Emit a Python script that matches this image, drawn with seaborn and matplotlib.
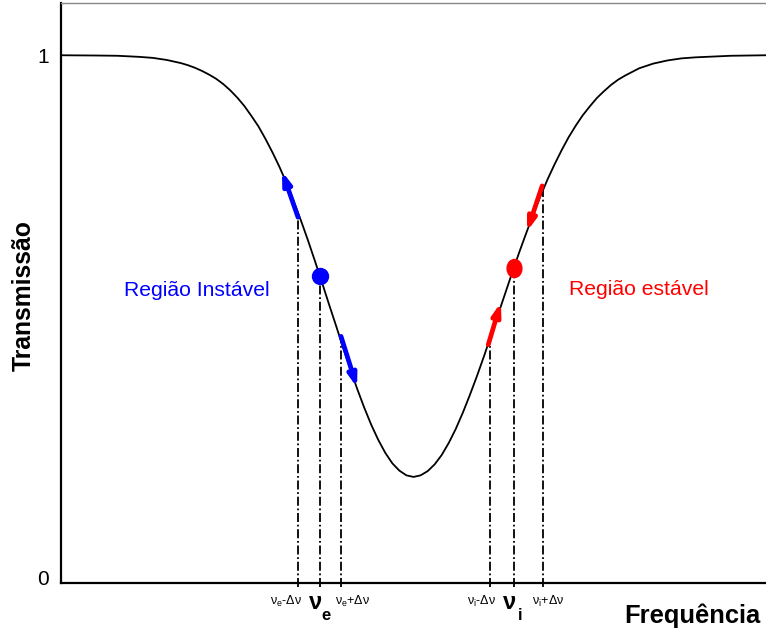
import numpy as np
import pandas as pd
import matplotlib
matplotlib.use("Agg")
import matplotlib.pyplot as plt
from matplotlib.markers import MarkerStyle
from matplotlib.transforms import Affine2D
import seaborn as sns

# Transmission curve of the filter (frequency in arbitrary units)
freq = [0.0, 0.5, 0.8, 1.1, 1.3, 1.5, 1.6, 1.7, 1.8, 1.9, 2.0, 2.1, 2.2, 2.3,
        2.4, 2.5, 2.6, 2.7, 2.8, 2.9, 3.0, 3.1, 3.2, 3.3, 3.4, 3.5, 3.6, 3.7,
        3.8, 3.9, 4.0, 4.1, 4.2, 4.3, 4.4, 4.5, 4.6, 4.7, 4.8, 4.9, 5.0, 5.1,
        5.2, 5.3, 5.4, 5.5, 5.6, 5.7, 5.8, 5.9, 6.0, 6.1, 6.2, 6.3, 6.4, 6.5,
        6.6, 6.7, 6.8, 6.9, 7.0, 7.1, 7.2, 7.3, 7.4, 7.5, 7.6, 7.7, 7.8, 7.9,
        8.0, 8.2, 8.4, 8.6, 8.8, 9.0, 9.5, 10.0]
trans = [1.000, 0.9995, 0.999, 0.997, 0.995, 0.991, 0.988, 0.985, 0.981, 0.976,
         0.970, 0.963, 0.955, 0.945, 0.933, 0.919, 0.903, 0.884, 0.864, 0.840,
         0.814, 0.786, 0.755, 0.721, 0.685, 0.647, 0.607, 0.566, 0.524, 0.483,
         0.441, 0.401, 0.362, 0.326, 0.293, 0.264, 0.239, 0.219, 0.205, 0.196,
         0.193, 0.196, 0.204, 0.217, 0.235, 0.258, 0.285, 0.316, 0.350, 0.386,
         0.424, 0.464, 0.504, 0.544, 0.584, 0.623, 0.660, 0.696, 0.730, 0.762,
         0.791, 0.818, 0.843, 0.865, 0.885, 0.902, 0.918, 0.931, 0.943, 0.953,
         0.961, 0.975, 0.984, 0.990, 0.994, 0.996, 0.999, 1.000]

# Operating points: unstable (e) and stable (i), with the +/- delta offsets
pt_names = ["e-", "e", "e+", "i-", "i", "i+"]
pt_freq = [3.362, 3.674, 3.972, 6.085, 6.426, 6.837]
pt_trans = [0.697, 0.578, 0.455, 0.452, 0.593, 0.748]

# Drift arrows along the curve: (x_start, y_start, x_end, y_end)
arrows_blue = [(3.362, 0.690, 3.135, 0.778), (3.972, 0.462, 4.200, 0.364)]
arrows_red = [(6.060, 0.446, 6.240, 0.527), (6.825, 0.750, 6.610, 0.663)]

small_labels = [r"$\mathregular{\nu_e}$-$\mathregular{\Delta\nu}$",
                r"$\mathregular{\nu_e}$+$\mathregular{\Delta\nu}$",
                r"$\mathregular{\nu_i}$-$\mathregular{\Delta\nu}$",
                r"$\mathregular{\nu_i}$+$\mathregular{\Delta\nu}$"]
small_label_x = [3.19, 4.13, 5.96, 6.91]

sns.set_theme(style="white")
plt.rcParams["font.family"] = ["Liberation Sans", "DejaVu Sans"]
plt.rcParams["text.color"] = "black"
plt.rcParams["ytick.color"] = "black"
plt.rcParams["mathtext.fontset"] = "custom"
plt.rcParams["mathtext.rm"] = "Liberation Sans"
plt.rcParams["mathtext.it"] = "Liberation Sans"
plt.rcParams["mathtext.bf"] = "Liberation Sans:bold"

fig = plt.figure(figsize=(7.66, 6.36), dpi=100)
ax = fig.add_axes([61 / 766, 53 / 636, 1 - 61 / 766, (583 - 3) / 636])

df = pd.DataFrame({"Frequência": freq, "Transmissão": trans})
sns.lineplot(data=df, x="Frequência", y="Transmissão", color="black",
             linewidth=1.3, ax=ax)

# Vertical dash-dot guides down to the axis
for x, y in zip(pt_freq, pt_trans):
    ax.plot([x, x], [-0.017, y], color="black", linewidth=1.3,
            linestyle=(0, (5, 1.5, 1, 1.5)), clip_on=False, zorder=2)

for x0, y0, x1, y1 in arrows_blue:
    ax.annotate("", xy=(x1, y1), xytext=(x0, y0),
                arrowprops=dict(arrowstyle="-|>,head_length=0.6,head_width=0.2",
                                color="#0000ff", lw=3.4, shrinkA=0, shrinkB=0))
for x0, y0, x1, y1 in arrows_red:
    ax.annotate("", xy=(x1, y1), xytext=(x0, y0),
                arrowprops=dict(arrowstyle="-|>,head_length=0.6,head_width=0.2",
                                color="#ff0000", lw=3.4, shrinkA=0, shrinkB=0))

ax.plot([pt_freq[1]], [pt_trans[1]], marker="o", markersize=11.5,
        color="#0000ff", linestyle="none", zorder=4)
ax.plot([pt_freq[4]], [pt_trans[4]],
        marker=MarkerStyle("o", transform=Affine2D().scale(0.82, 1.0)),
        markersize=13, color="#ff0000", linestyle="none", zorder=4)

ax.text(1.93, 0.55, "Região Instável", color="#0000ff", fontsize=15.2,
        ha="center", va="center")
ax.text(8.2, 0.552, "Região estável", color="#ff0000", fontsize=15.2,
        ha="center", va="center")

ax.set_xlim(0, 10)
ax.set_ylim(-0.01, 1.1)
ax.set_yticks([0, 1])
ax.set_yticklabels(["0", "1"], fontsize=15, color="black")
ax.set_xticks([])
ax.tick_params(axis="y", length=0, pad=8.5)
ax.set_xlabel("")
ax.set_ylabel("")

for s in ["left", "bottom"]:
    ax.spines[s].set_color("black")
    ax.spines[s].set_linewidth(1.6)
ax.spines["top"].set_color("#888888")
ax.spines["top"].set_linewidth(1.0)
ax.spines["right"].set_visible(False)

# Frequency labels under the axis
for x, lab in zip(small_label_x, small_labels):
    ax.text(x, -0.046, lab, fontsize=9, ha="center", va="center",
            clip_on=False)
for x, sub in [(pt_freq[1], "e"), (pt_freq[4], "i")]:
    ax.text(x - 0.06, -0.047, "ν", fontsize=17, fontweight="bold",
            ha="center", va="center", clip_on=False)
    ax.text(x + 0.08, -0.072, sub, fontsize=12, fontweight="bold",
            ha="center", va="center", clip_on=False)

fig.text(692 / 766, 1 - 616 / 636, "Frequência", fontsize=18.4,
         fontweight="bold", ha="center", va="center")
fig.text(24 / 766, 1 - 296 / 636, "Transmissão", fontsize=17.8,
         fontweight="bold", ha="center", va="center", rotation=90)

fig.savefig("out.png", dpi=100)
